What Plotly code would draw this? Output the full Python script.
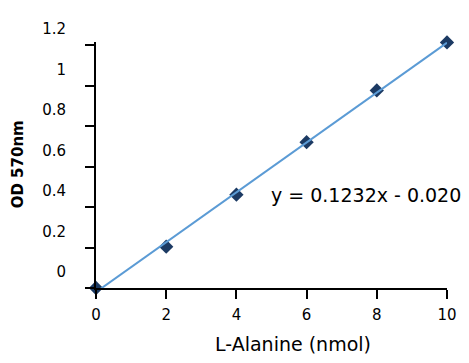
import plotly.graph_objects as go

# Data
alanine_nmol = [0, 2, 4, 6, 8, 10]
od_570 = [0.0, 0.204, 0.461, 0.720, 0.976, 1.213]

# Trendline shown on the chart
slope = 0.1232
intercept = -0.0203
trend_x = [0, 10]
trend_y = [slope * x + intercept for x in trend_x]
equation_text = "y = 0.1232x - 0.0203"

x_ticks = [0, 2, 4, 6, 8, 10]
y_ticks = [0, 0.2, 0.4, 0.6, 0.8, 1.0, 1.2]
y_tick_labels = ["0", "0.2", "0.4", "0.6", "0.8", "1", "1.2"]

FONT = "DejaVu Sans"

fig = go.Figure()
fig.add_trace(go.Scatter(
    x=alanine_nmol, y=od_570, mode="markers",
    marker=dict(symbol="diamond", size=11, color="#1c3a63"),
    cliponaxis=False, showlegend=False,
))
fig.add_trace(go.Scatter(
    x=trend_x, y=trend_y, mode="lines",
    line=dict(color="#5b9bd5", width=2),
    showlegend=False,
))

fig.update_layout(
    width=469, height=363,
    margin=dict(l=88, r=30, t=27, b=83),
    paper_bgcolor="white", plot_bgcolor="white",
    font=dict(family=FONT, color="black", size=15),
    xaxis=dict(
        range=[0, 10], tickvals=x_ticks, showgrid=False, zeroline=False,
        showline=True, linecolor="black", linewidth=2,
        ticks="outside", ticklen=9, tickwidth=2, tickcolor="black",
        tickfont=dict(family=FONT, size=15, color="black"),
        ticklabelstandoff=3,
    ),
    yaxis=dict(
        range=[0, 1.215], tickvals=y_ticks, ticktext=y_tick_labels,
        showgrid=False, zeroline=False,
        showline=True, linecolor="black", linewidth=2,
        ticks="outside", ticklen=9, tickwidth=2, tickcolor="black",
        tickfont=dict(family=FONT, size=15, color="black"),
        ticklabelshift=-16, ticklabelstandoff=16,
    ),
    annotations=[
        dict(x=4.94, y=0.457, xref="x", yref="y", text=equation_text,
             showarrow=False, xanchor="left", yanchor="middle",
             font=dict(family=FONT, size=19, color="black")),
        dict(x=0.560, y=-0.226, xref="paper", yref="paper",
             text="L-Alanine (nmol)", showarrow=False,
             xanchor="center", yanchor="middle",
             font=dict(family=FONT, size=19, color="black")),
        dict(x=-0.222, y=0.503, xref="paper", yref="paper",
             text="<b>OD 570nm</b>", showarrow=False, textangle=-90,
             xanchor="center", yanchor="middle",
             font=dict(family=FONT, size=15, color="black")),
    ],
)

fig.write_html("out.html")
